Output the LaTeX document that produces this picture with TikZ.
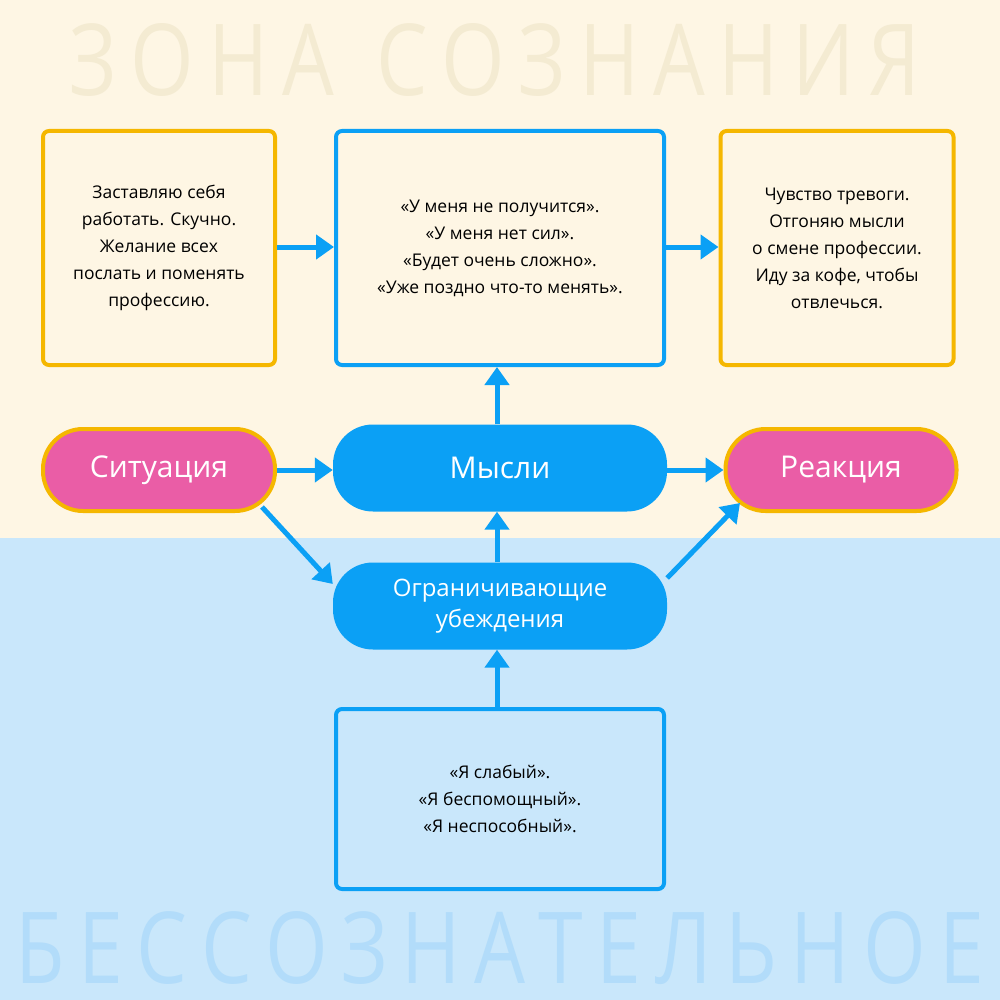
\documentclass[tikz,border=0pt]{standalone}
\usepackage{fontspec}
\setmainfont{Open Sans}
\usetikzlibrary{arrows.meta}
\definecolor{cream}{HTML}{FEF6E4}
\definecolor{sky}{HTML}{C9E7FB}
\definecolor{ttop}{HTML}{F4EBD2}
\definecolor{tbot}{HTML}{B2DCFA}
\definecolor{yel}{HTML}{F5B700}
\definecolor{blu}{HTML}{0BA0F5}
\definecolor{pnk}{HTML}{EA5DA6}
\tikzset{
 txtbox/.style={draw, line width=4pt, rounded corners=6pt, inner sep=0pt, align=center, font=\fontsize{17.5}{27}\selectfont},
 ybox/.style={txtbox, draw=yel, fill=cream},
 bbox/.style={txtbox, draw=blu},
 pill/.style={rounded corners=40pt, inner sep=0pt, align=center, text=white, font=\fontsize{30}{32}\selectfont},
 ppill/.style={pill, fill=pnk, draw=yel, line width=4pt},
 bpill/.style={pill, fill=blu},
 arr/.style={draw=blu, line width=5pt, -{Triangle[length=18pt,width=24pt]}, shorten >=0pt}
}
\begin{document}
\begin{tikzpicture}[x=1pt,y=-1pt]
\useasboundingbox (0,0) rectangle (1000,1000);
\fill[cream] (0,0) rectangle (1000,538);
\fill[sky] (0,538) rectangle (1000,1000);
\node[text=ttop, inner sep=0pt] (t1) at (495,60) {\resizebox{850pt}{72pt}{З\,О\,Н\,А\ \ С\,О\,З\,Н\,А\,Н\,И\,Я}};
\node[text=tbot, inner sep=0pt] (t2) at (500,948) {\resizebox{968pt}{72pt}{Б\,Е\,С\,С\,О\,З\,Н\,А\,Т\,Е\,Л\,Ь\,Н\,О\,Е}};
\node[ybox, minimum width=232pt, minimum height=234pt] (L) at (159,248) {Заставляю себя\\работать. Скучно.\\Желание всех\\послать и поменять\\профессию.};
\node[bbox, fill=cream, minimum width=328pt, minimum height=234pt] (M) at (500,248) {«У меня не получится».\\«У меня нет сил».\\«Будет очень сложно».\\«Уже поздно что-то менять».};
\node[ybox, minimum width=233pt, minimum height=234pt] (R) at (837,248) {Чувство тревоги.\\Отгоняю мысли\\о смене профессии.\\Иду за кофе, чтобы\\отвлечься.};
\node[ppill, minimum width=232pt, minimum height=82pt] (S) at (159,470) {Ситуация};
\node[bpill, minimum width=334pt, minimum height=87pt] (T) at (500,468) {Мысли};
\node[ppill, minimum width=231pt, minimum height=82pt] (Re) at (841,470) {Реакция};
\node[bpill, minimum width=334pt, minimum height=87pt, font=\fontsize{24}{31}\selectfont] (O) at (500,606) {Ограничивающие\\убеждения};
\node[bbox, fill=sky, minimum width=328pt, minimum height=180pt] (B) at (500,799) {«Я слабый».\\«Я беспомощный».\\«Я неспособный».};
\draw[arr] (L.east|-0,247) -- (M.west|-0,247);
\draw[arr] (M.east|-0,247) -- (R.west|-0,247);
\draw[arr] (T.north-|497,0) -- (M.south-|497,0);
\draw[arr] (S.east|-0,470) -- (T.west|-0,470);
\draw[arr] (T.east|-0,470) -- (Re.west|-0,470);
\draw[arr] (262,507) -- (O.west|-0,584);
\draw[arr] (O.north-|497,0) -- (T.south-|497,0);
\draw[arr] (O.east|-0,578) -- (740,503);
\draw[arr] (B.north-|497,0) -- (O.south-|497,0);
\end{tikzpicture}
\end{document}
